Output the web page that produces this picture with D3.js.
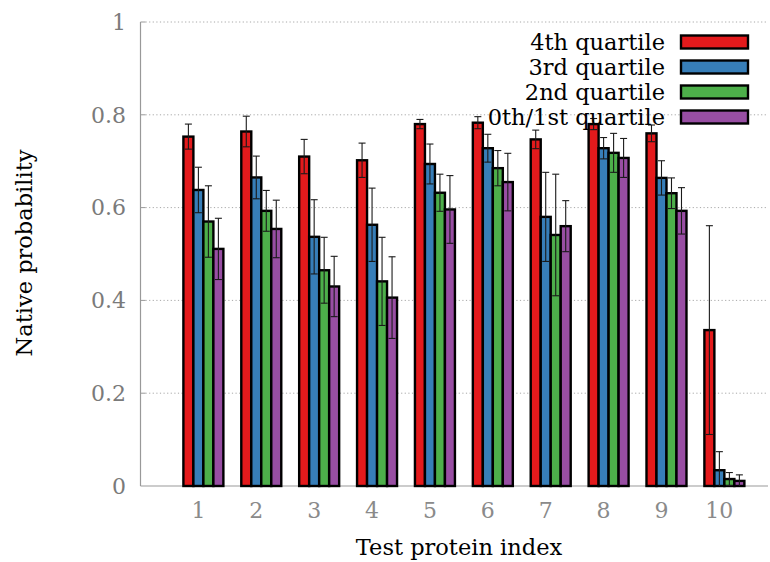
<!DOCTYPE html>
<html><head><meta charset="utf-8">
<script src="https://cdn.jsdelivr.net/npm/d3@7"></script>
<style>body{margin:0;background:#fff}svg{display:block}</style>
</head><body>
<script>
const categories = [1,2,3,4,5,6,7,8,9,10];
const seriesNames = ["4th quartile","3rd quartile","2nd quartile","0th/1st quartile"];
const seriesColors = ["#e41a1c","#377eb8","#4daf4a","#984ea3"];
const q4 = [0.753,0.764,0.710,0.702,0.780,0.783,0.747,0.780,0.760,0.336];
const q4err = [0.027,0.033,0.037,0.037,0.010,0.013,0.020,0.012,0.018,0.225];
const q3 = [0.638,0.665,0.537,0.563,0.694,0.728,0.580,0.728,0.664,0.034];
const q3err = [0.049,0.046,0.080,0.079,0.043,0.030,0.096,0.023,0.037,0.040];
const q2 = [0.570,0.593,0.465,0.441,0.632,0.685,0.541,0.718,0.631,0.015];
const q2err = [0.077,0.044,0.071,0.095,0.040,0.038,0.131,0.042,0.033,0.014];
const q1 = [0.511,0.554,0.430,0.406,0.596,0.655,0.560,0.707,0.593,0.011];
const q1err = [0.066,0.062,0.065,0.088,0.073,0.062,0.055,0.042,0.050,0.013];
const yTicks = [0,0.2,0.4,0.6,0.8,1];
const yTickLabels = ["0","0.2","0.4","0.6","0.8","1"];

(function () {
const values = [q4,q3,q2,q1];
const errors = [q4err,q3err,q2err,q1err];

const W = 770, H = 562;
const pL = 140.5, pR = 768, pT = 22, pB = 486;
const font = "'DejaVu Serif', 'Liberation Serif', serif";

const svg = d3.select("body").append("svg").attr("width", W).attr("height", H);

const x = d3.scaleLinear().domain([0, 10.84]).range([pL, pR]);
const y = d3.scaleLinear().domain([0, 1]).range([pB, pT]);
const barW = 0.1727, clusterStart = -0.259;

// grid
const grid = svg.append("g");
yTicks.forEach(t => {
  if (t === 0) return;
  grid.append("line").attr("x1", pL + 5).attr("x2", pR)
    .attr("y1", y(t)).attr("y2", y(t))
    .attr("stroke", "#a8a8a8").attr("stroke-width", 1).attr("stroke-dasharray", "1.2,2.4");
  grid.append("line").attr("x1", pL).attr("x2", pL + 5)
    .attr("y1", y(t)).attr("y2", y(t))
    .attr("stroke", "#999").attr("stroke-width", 1);
});

// axes lines
svg.append("line").attr("x1", pL).attr("x2", pL).attr("y1", y(1)).attr("y2", y(0))
  .attr("stroke", "#999").attr("stroke-width", 1.2);
svg.append("line").attr("x1", pL).attr("x2", pR).attr("y1", y(0)).attr("y2", y(0))
  .attr("stroke", "#999").attr("stroke-width", 1.2);

// y tick labels
svg.append("g").selectAll("text").data(yTicks).join("text")
  .attr("x", 126).attr("y", d => y(d)).attr("dy", "0.35em")
  .attr("text-anchor", "end").attr("font-family", font).attr("font-size", 22)
  .attr("fill", "#7a7a7a").text((d,i) => yTickLabels[i]);

// x tick labels
svg.append("g").selectAll("text").data(categories).join("text")
  .attr("x", d => x(d)).attr("y", 518)
  .attr("text-anchor", "middle").attr("font-family", font).attr("font-size", 22)
  .attr("fill", "#8a8a8a").text(d => d);

// bars
const bars = svg.append("g");
values.forEach((vals, s) => {
  categories.forEach((c, i) => {
    const x0 = x(c + clusterStart + s * barW);
    const x1 = x(c + clusterStart + (s + 1) * barW);
    bars.append("rect").attr("x", x0).attr("y", y(vals[i]))
      .attr("width", x1 - x0).attr("height", y(0) - y(vals[i]))
      .attr("fill", seriesColors[s]).attr("stroke", "#000").attr("stroke-width", 2.4);
  });
});

// error bars
const eb = svg.append("g").attr("stroke", "#1a1a1a").attr("stroke-width", 1.1);
values.forEach((vals, s) => {
  categories.forEach((c, i) => {
    const cx = x(c + clusterStart + (s + 0.5) * barW);
    const hi = vals[i] + errors[s][i], lo = Math.max(0, vals[i] - errors[s][i]);
    eb.append("line").attr("x1", cx).attr("x2", cx).attr("y1", y(hi)).attr("y2", y(lo));
    eb.append("line").attr("x1", cx - 3.5).attr("x2", cx + 3.5).attr("y1", y(hi)).attr("y2", y(hi));
    if (vals[i] - errors[s][i] > 0)
      eb.append("line").attr("x1", cx - 3.5).attr("x2", cx + 3.5).attr("y1", y(lo)).attr("y2", y(lo));
  });
});

// axis titles
svg.append("text").attr("x", 459).attr("y", 555).attr("text-anchor", "middle")
  .attr("font-family", font).attr("font-size", 22.5).attr("fill", "#000").text("Test protein index");
svg.append("text").attr("transform", "translate(32,253) rotate(-90)").attr("text-anchor", "middle")
  .attr("font-family", font).attr("font-size", 22.5).attr("fill", "#000").text("Native probability");

// legend
const lg = svg.append("g");
seriesNames.forEach((n, s) => {
  const ly = 42 + s * 25;
  lg.append("text").attr("x", 665).attr("y", ly).attr("dy", "0.35em").attr("text-anchor", "end")
    .attr("font-family", font).attr("font-size", 22.5).attr("fill", "#000").text(n);
  lg.append("rect").attr("x", 681).attr("y", ly - 6.5).attr("width", 67).attr("height", 13)
    .attr("fill", seriesColors[s]).attr("stroke", "#000").attr("stroke-width", 2.4);
});
})();
</script>
</body></html>
